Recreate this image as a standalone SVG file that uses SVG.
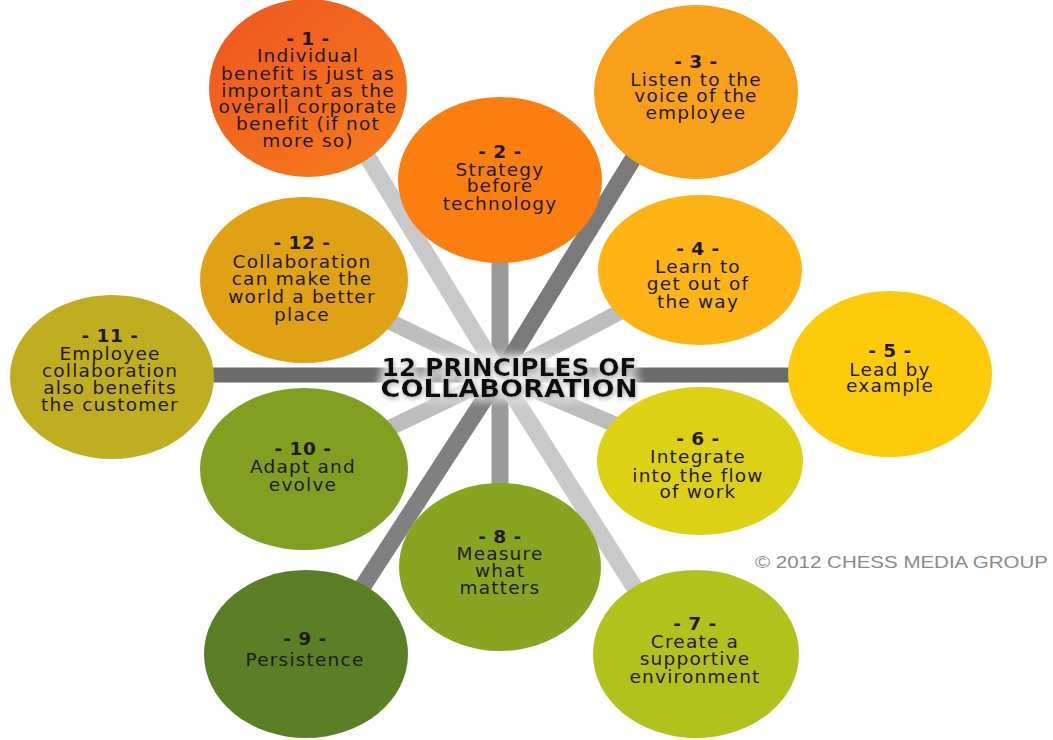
<svg xmlns="http://www.w3.org/2000/svg" width="1053" height="740" viewBox="0 0 1053 740">
<defs>
<style>
.sp{stroke-linecap:butt;fill:none}
.t{font-family:"DejaVu Sans",sans-serif;font-size:18.5px;letter-spacing:1.2px;fill:#1e1a14;text-anchor:middle}
.n{font-weight:bold;letter-spacing:0.5px}
.title{font-family:"DejaVu Sans",sans-serif;font-weight:bold;font-size:25px;fill:#111;text-anchor:middle}
.copy{font-family:"Liberation Sans",sans-serif;font-size:17px;fill:#8a8a8a}
</style>
<filter id="glow" x="-20%" y="-80%" width="140%" height="260%">
<feMorphology in="SourceAlpha" operator="dilate" radius="3" result="d"/>
<feGaussianBlur in="d" stdDeviation="4" result="db"/>
<feFlood flood-color="#ffffff" flood-opacity="0.9"/>
<feComposite in2="db" operator="in" result="white"/>
<feGaussianBlur in="SourceAlpha" stdDeviation="2.5" result="sb"/>
<feOffset in="sb" dx="1" dy="2" result="so"/>
<feFlood flood-color="#444444" flood-opacity="0.7"/>
<feComposite in2="so" operator="in" result="shadow"/>
<feMerge><feMergeNode in="white"/><feMergeNode in="shadow"/><feMergeNode in="SourceGraphic"/></feMerge>
</filter>
<linearGradient id="g1" x1="0" y1="0" x2="1" y2="1"><stop offset="0" stop-color="#EE5522"/><stop offset="1" stop-color="#F77E1A"/></linearGradient>
</defs>
<rect width="1053" height="740" fill="#ffffff"/>
<g id="connectors">
<line class="sp" x1="210" y1="375" x2="795" y2="375" stroke="#6b6b6b" stroke-width="15"/>
<line class="sp" x1="500" y1="375" x2="500" y2="240" stroke="#9a9a9a" stroke-width="17"/>
<line class="sp" x1="500" y1="375" x2="500" y2="510" stroke="#9a9a9a" stroke-width="17"/>
<line class="sp" x1="500" y1="375" x2="345" y2="120" stroke="#c9c9c9" stroke-width="17"/>
<line class="sp" x1="500" y1="375" x2="657" y2="120" stroke="#7a7a7a" stroke-width="17"/>
<line class="sp" x1="500" y1="375" x2="655" y2="620" stroke="#c9c9c9" stroke-width="17"/>
<line class="sp" x1="500" y1="375" x2="341" y2="620" stroke="#808080" stroke-width="17"/>
<line class="sp" x1="500" y1="375" x2="304" y2="280" stroke="#bdbdbd" stroke-width="16"/>
<line class="sp" x1="500" y1="375" x2="304" y2="469" stroke="#bdbdbd" stroke-width="16"/>
<line class="sp" x1="500" y1="375" x2="700" y2="270" stroke="#bdbdbd" stroke-width="16"/>
<line class="sp" x1="500" y1="375" x2="700" y2="461" stroke="#bdbdbd" stroke-width="16"/>
</g>
<g id="node1"><ellipse cx="308" cy="88" rx="99" ry="89" fill="url(#g1)"/>
<text class="t"><tspan class="n" x="308" y="45">- 1 -</tspan><tspan x="308" y="62">Individual</tspan><tspan x="308" y="80">benefit is just as</tspan><tspan x="308" y="97">important as the</tspan><tspan x="308" y="113">overall corporate</tspan><tspan x="308" y="130">benefit (if not</tspan><tspan x="308" y="147">more so)</tspan></text></g>
<g id="node2"><ellipse cx="500" cy="180" rx="102" ry="83" fill="#FB7F10"/>
<text class="t"><tspan class="n" x="500" y="158">- 2 -</tspan><tspan x="500" y="176">Strategy</tspan><tspan x="500" y="192">before</tspan><tspan x="500" y="210">technology</tspan></text></g>
<g id="node3"><ellipse cx="696" cy="92" rx="102" ry="87" fill="#F9A01B"/>
<text class="t"><tspan class="n" x="696" y="68">- 3 -</tspan><tspan x="696" y="86">Listen to the</tspan><tspan x="696" y="102">voice of the</tspan><tspan x="696" y="119">employee</tspan></text></g>
<g id="node4"><ellipse cx="700" cy="270" rx="102" ry="75" fill="#FDB414"/>
<text class="t"><tspan class="n" x="698" y="255">- 4 -</tspan><tspan x="698" y="273">Learn to</tspan><tspan x="698" y="290">get out of</tspan><tspan x="698" y="308">the way</tspan></text></g>
<g id="node5"><ellipse cx="890" cy="374" rx="102" ry="83" fill="#FECB0B"/>
<text class="t"><tspan class="n" x="890" y="357">- 5 -</tspan><tspan x="890" y="376">Lead by</tspan><tspan x="890" y="392">example</tspan></text></g>
<g id="node6"><ellipse cx="700" cy="461" rx="103" ry="74" fill="#DDD115"/>
<text class="t"><tspan class="n" x="698" y="445">- 6 -</tspan><tspan x="698" y="463">Integrate</tspan><tspan x="698" y="482">into the flow</tspan><tspan x="698" y="498">of work</tspan></text></g>
<g id="node7"><ellipse cx="696" cy="654" rx="103" ry="84" fill="#B3C11C"/>
<text class="t"><tspan class="n" x="695" y="630">- 7 -</tspan><tspan x="695" y="648">Create a</tspan><tspan x="695" y="665">supportive</tspan><tspan x="695" y="683">environment</tspan></text></g>
<g id="node8"><ellipse cx="500" cy="567" rx="101" ry="84" fill="#88A521"/>
<text class="t"><tspan class="n" x="500" y="543">- 8 -</tspan><tspan x="500" y="560">Measure</tspan><tspan x="500" y="577">what</tspan><tspan x="500" y="594">matters</tspan></text></g>
<g id="node9"><ellipse cx="306" cy="654" rx="102" ry="84" fill="#5B7F25"/>
<text class="t"><tspan class="n" x="305" y="645">- 9 -</tspan><tspan x="305" y="666">Persistence</tspan></text></g>
<g id="node10"><ellipse cx="304" cy="469" rx="104" ry="81" fill="#81A022"/>
<text class="t"><tspan class="n" x="303" y="455">- 10 -</tspan><tspan x="303" y="473">Adapt and</tspan><tspan x="303" y="491">evolve</tspan></text></g>
<g id="node11"><ellipse cx="112" cy="377" rx="102" ry="82" fill="#C0AE21"/>
<text class="t"><tspan class="n" x="110" y="342">- 11 -</tspan><tspan x="110" y="360">Employee</tspan><tspan x="110" y="377">collaboration</tspan><tspan x="110" y="394">also benefits</tspan><tspan x="110" y="411">the customer</tspan></text></g>
<g id="node12"><ellipse cx="304" cy="280" rx="104" ry="83" fill="#E0A214"/>
<text class="t"><tspan class="n" x="302" y="249">- 12 -</tspan><tspan x="302" y="268">Collaboration</tspan><tspan x="302" y="285">can make the</tspan><tspan x="302" y="303">world a better</tspan><tspan x="302" y="321">place</tspan></text></g>
<g id="title" filter="url(#glow)">
<text class="title" x="509" y="376" textLength="255" lengthAdjust="spacingAndGlyphs">12 PRINCIPLES OF</text>
<text class="title" x="509" y="397" textLength="257" lengthAdjust="spacingAndGlyphs">COLLABORATION</text>
</g>
<text class="copy" x="755" y="568" textLength="293" lengthAdjust="spacingAndGlyphs">© 2012 CHESS MEDIA GROUP</text>
</svg>
